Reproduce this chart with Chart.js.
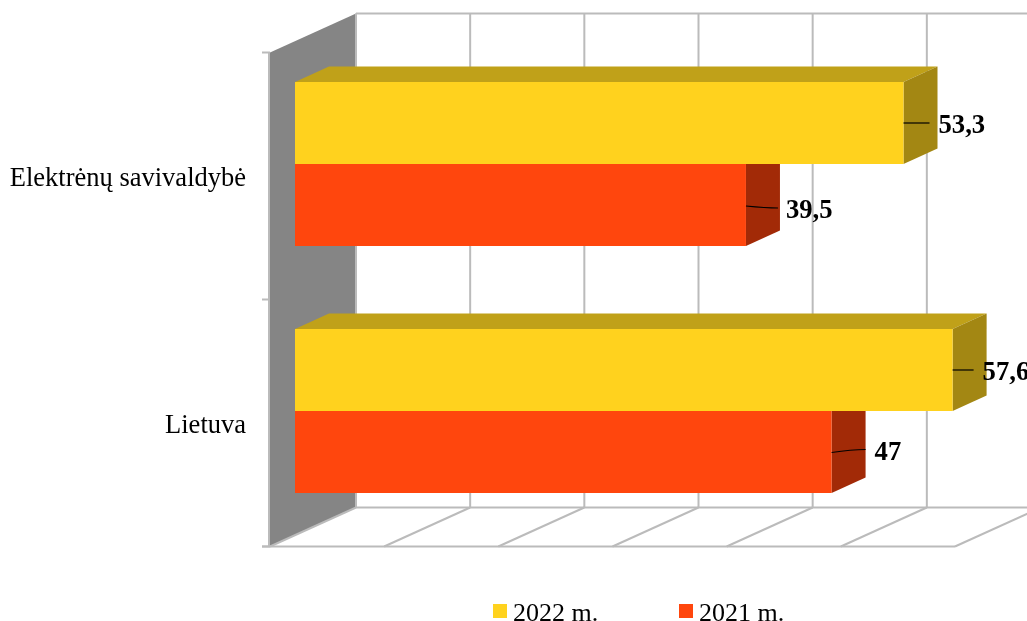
<!DOCTYPE html>
<html>
<head>
<meta charset="utf-8">
<style>
html, body { margin: 0; padding: 0; background: #fff; overflow: hidden; }
canvas { display: block; }
</style>
<script src="https://cdn.jsdelivr.net/npm/chart.js@4"></script>
</head>
<body>
<canvas id="chart" width="1027" height="621"></canvas>
<script>
// data
const categories = ['Elektrėnų savivaldybė', 'Lietuva'];
const seriesNames = ['2022 m.', '2021 m.'];
const values2022 = [53.3, 57.6];
const values2021 = [39.5, 47];
const valueTicks = [0, 10, 20, 30, 40, 50, 60];

// colours: front face, top face, side face
const faceColors = [
    { front: '#FFD21E', top: '#C0A119', side: '#A38713' },
    { front: '#FF460D', top: '#A22A07', side: '#A22A07' }
];
const wallColor = '#858585';
const gridColor = '#BBBBBB';
const serif = '"Liberation Serif", serif';

// 3d offsets from the plane the bars stand on
const frontDx = -25, frontDy = 12;
const backDx = 61, backDy = -27;
const depthDx = 34, depthDy = -15.5;

// leader end / label start, measured from the bar end; per series, per category
const leaderEnd = [[26, 21], [32, 34]];
const labelStart = [[35, 30], [40, 43]];
const leaderBend = [[0, 0], [3, -2.5]];

function line(c, x1, y1, x2, y2) {
    c.beginPath();
    c.moveTo(x1, y1);
    c.lineTo(x2, y2);
    c.stroke();
}

function poly(c, pts, color) {
    c.fillStyle = color;
    c.beginPath();
    c.moveTo(pts[0][0], pts[0][1]);
    for (let i = 1; i < pts.length; i++) {
        c.lineTo(pts[i][0], pts[i][1]);
    }
    c.closePath();
    c.fill();
}

const box3d = {
    id: 'box3d',
    beforeDatasetsDraw(chart) {
        const c = chart.ctx;
        const area = chart.chartArea;
        const xs = chart.scales.x;
        const ys = chart.scales.y;
        const left = xs.getPixelForValue(0);
        const fTop = area.top + frontDy, fBot = area.bottom + frontDy;
        const bTop = area.top + backDy, bBot = area.bottom + backDy;
        const fLeft = left + frontDx, bLeft = left + backDx;

        c.save();
        // left wall
        poly(c, [[fLeft, fTop], [bLeft, bTop], [bLeft, bBot], [fLeft, fBot]], wallColor);

        c.strokeStyle = gridColor;
        c.lineWidth = 2;
        // back wall and floor lines
        valueTicks.forEach(v => {
            const px = xs.getPixelForValue(v);
            line(c, px + backDx, bTop, px + backDx, bBot);
            line(c, px + frontDx, fBot, px + backDx, bBot);
        });
        const last = xs.getPixelForValue(valueTicks[valueTicks.length - 1]);
        line(c, bLeft, bTop, last + backDx, bTop);
        line(c, bLeft, bBot, last + backDx, bBot);
        line(c, fLeft - 8, fBot, last + frontDx, fBot);
        // front axis with its ticks between the categories
        line(c, fLeft - 1, fTop, fLeft - 1, fBot);
        const band = ys.getPixelForValue(1) - ys.getPixelForValue(0);
        [area.top, area.top + band, area.top + band * 2].forEach(y => {
            line(c, fLeft - 8, y + frontDy, fLeft, y + frontDy);
        });

        // top and side faces, lower series first so the upper bar covers it
        for (let d = chart.data.datasets.length - 1; d >= 0; d--) {
            chart.getDatasetMeta(d).data.forEach(bar => {
                const t = bar.y - bar.height / 2, b = bar.y + bar.height / 2;
                poly(c, [[bar.base, t], [bar.base + depthDx, t + depthDy], [bar.x + depthDx, t + depthDy], [bar.x, t]], faceColors[d].top);
                poly(c, [[bar.x, t], [bar.x + depthDx, t + depthDy], [bar.x + depthDx, b + depthDy], [bar.x, b]], faceColors[d].side);
            });
        }
        c.restore();
    },
    afterDatasetsDraw(chart) {
        const c = chart.ctx;
        c.save();
        // leader lines and value labels
        chart.data.datasets.forEach((ds, d) => {
            chart.getDatasetMeta(d).data.forEach((bar, i) => {
                const bend = leaderBend[d][i];
                const endX = bar.x + leaderEnd[d][i];
                c.strokeStyle = '#000';
                c.lineWidth = 1.2;
                c.beginPath();
                c.moveTo(bar.x, bar.y + (d ? (bend > 0 ? 1 : 0.5) : 0));
                c.quadraticCurveTo(bar.x + 20, bar.y + bend, endX, bar.y + bend);
                c.stroke();
                c.fillStyle = '#000';
                c.font = 'bold 26.67px ' + serif;
                c.textAlign = 'left';
                c.textBaseline = 'middle';
                c.fillText(String(ds.data[i]).replace('.', ','), bar.x + labelStart[d][i], bar.y + bend + 3.5);
            });
        });
        // legend under the plot
        const legendX = [493, 679];
        c.font = '26px ' + serif;
        chart.data.datasets.forEach((ds, d) => {
            c.fillStyle = ds.backgroundColor;
            c.fillRect(legendX[d], 604, 14, 14);
            c.fillStyle = '#000';
            c.textBaseline = 'middle';
            c.fillText(ds.label, legendX[d] + 20, 614);
        });
        c.restore();
    }
};

new Chart(document.getElementById('chart'), {
    type: 'bar',
    data: {
        labels: categories,
        datasets: [
            { label: seriesNames[0], data: values2022, backgroundColor: faceColors[0].front },
            { label: seriesNames[1], data: values2021, backgroundColor: faceColors[1].front }
        ]
    },
    options: {
        indexAxis: 'y',
        responsive: false,
        animation: false,
        layout: { padding: { top: 40.5, right: 47, bottom: 86.5, left: 0 } },
        datasets: { bar: { categoryPercentage: 0.664, barPercentage: 1 } },
        scales: {
            x: {
                min: 0,
                max: 60,
                afterFit(scale) { scale.height = 0; scale.paddingLeft = 0; scale.paddingRight = 0; },
                ticks: { display: false, stepSize: 10 },
                grid: { display: false, drawTicks: false },
                border: { display: false }
            },
            y: {
                afterFit(scale) { scale.width = 295; scale.paddingTop = 0; scale.paddingBottom = 0; },
                grid: { display: false, drawTicks: false },
                border: { display: false },
                ticks: {
                    padding: 49,
                    labelOffset: 15,
                    color: '#000',
                    autoSkip: false,
                    font: { family: serif, size: 26.5 }
                }
            }
        },
        plugins: {
            legend: { display: false },
            tooltip: { enabled: false }
        }
    },
    plugins: [box3d]
});
</script>
</body>
</html>
